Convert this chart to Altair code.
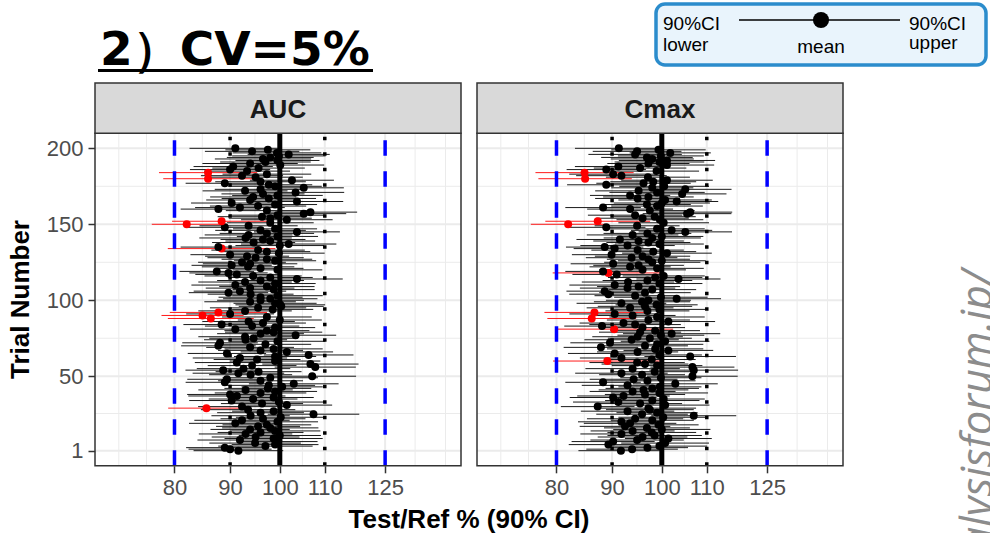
import altair as alt
import numpy as np
import pandas as pd

# ---------------- data ----------------
trials = list(range(1, 201))

auc_mean = [
    91.6, 90.0, 89.0, 97.0, 99.0, 94.9, 99.5, 91.9, 98.7, 95.0,
    100.0, 93.0, 96.0, 99.0, 93.9, 98.0, 95.5, 97.3, 91.0, 99.5,
    92.3, 96.5, 100.2, 94.0, 107.4, 96.0, 98.7, 93.5, 85.6, 92.3,
    101.5, 96.3, 99.8, 90.3, 94.5, 98.7, 91.3, 90.0, 96.0, 99.0,
    93.0, 97.5, 100.5, 97.7, 103.0, 89.0, 96.0, 89.4, 98.0, 107.1,
    94.0, 91.6, 95.6, 88.7, 92.6, 107.8, 94.3, 106.7, 91.3, 99.0,
    95.3, 91.9, 99.0, 106.3, 89.4, 101.5, 96.0, 98.7, 93.9, 87.8,
    97.0, 88.1, 99.5, 93.0, 94.6, 92.9, 103.4, 96.0, 98.7, 97.3,
    91.0, 99.0, 94.3, 88.4, 96.5, 93.6, 100.0, 86.4, 97.3, 84.9,
    90.0, 87.8, 92.9, 98.5, 95.5, 100.3, 100.1, 99.0, 93.9, 96.0,
    98.0, 96.0, 99.5, 94.0, 89.7, 91.9, 98.7, 93.9, 97.3, 91.0,
    99.0, 92.9, 96.0, 103.7, 98.0, 94.5, 91.3, 89.7, 87.5, 99.5,
    96.0, 93.5, 90.3, 93.9, 92.3, 99.0, 97.3, 95.0, 93.3, 90.0,
    99.8, 97.3, 95.5, 88.4, 87.8, 100.0, 101.9, 94.6, 98.0, 96.5,
    93.0, 99.5, 93.6, 97.3, 103.7, 96.0, 99.0, 89.0, 93.6, 82.1,
    98.0, 88.4, 101.5, 98.0, 96.3, 99.5, 105.2, 106.7, 97.3, 87.8,
    91.9, 95.5, 99.0, 90.3, 103.7, 93.9, 97.7, 94.5, 99.5, 96.5,
    103.4, 92.9, 96.0, 105.2, 99.0, 97.7, 89.0, 96.0, 102.6, 85.9,
    95.0, 92.3, 97.3, 85.9, 93.3, 90.0, 95.6, 90.6, 100.1, 93.9,
    97.0, 99.5, 96.5, 98.0, 99.8, 101.9, 99.4, 94.3, 97.5, 91.0,
]
# half width of the 90% CI on the log scale, in 1/1000
auc_hw = [
    95, 88, 82, 100, 92, 97, 85, 90, 104, 93,
    87, 99, 91, 96, 84, 102, 89, 94, 98, 86,
    101, 90, 95, 83, 97, 92, 88, 100, 81, 93,
    96, 87, 99, 90, 94, 85, 103, 91, 97, 89,
    100, 92, 86, 98, 95, 83, 90, 84, 101, 93,
    88, 97, 91, 80, 99, 86, 94, 102, 89, 96,
    92, 100, 87, 95, 83, 98, 90, 104, 93, 79,
    97, 80, 101, 88, 94, 99, 86, 92, 103, 90,
    96, 85, 100, 81, 91, 98, 89, 91, 95, 87,
    93, 103, 99, 86, 102, 90, 95, 88, 97, 92,
    100, 89, 96, 91, 84, 98, 87, 94, 101, 93,
    86, 99, 92, 97, 90, 103, 88, 83, 79, 95,
    91, 98, 85, 100, 93, 87, 96, 102, 89, 84,
    97, 92, 99, 114, 80, 94, 101, 88, 95, 90,
    98, 86, 93, 100, 91, 96, 89, 82, 104, 74,
    92, 105, 97, 88, 94, 101, 90, 99, 87, 80,
    95, 102, 89, 86, 98, 93, 100, 91, 96, 88,
    103, 90, 97, 85, 99, 92, 83, 96, 89, 95,
    100, 87, 94, 104, 91, 85, 98, 84, 93, 101,
    96, 89, 102, 92, 99, 87, 94, 100, 90, 97,
]

cmax_mean = [
    91.7, 93.9, 97.0, 99.5, 89.3, 100.7, 90.2, 94.9, 101.4, 96.0,
    98.5, 91.8, 97.9, 94.0, 100.0, 96.9, 92.5, 99.3, 93.5, 91.8,
    98.0, 94.5, 100.3, 107.0, 95.9, 99.0, 93.0, 97.5, 97.2, 87.3,
    100.7, 95.5, 91.2, 98.0, 100.4, 90.2, 92.2, 96.5, 99.5, 94.0,
    96.2, 98.0, 99.6, 93.0, 102.9, 88.3, 97.0, 94.2, 99.8, 106.7,
    95.9, 91.8, 98.5, 107.0, 94.0, 106.7, 99.0, 96.5, 94.9, 89.1,
    97.9, 91.8, 106.2, 99.5, 90.5, 95.0, 101.4, 98.6, 87.9, 96.5,
    99.0, 89.6, 100.7, 93.8, 97.5, 95.0, 99.8, 102.1, 95.5, 98.6,
    90.4, 96.0, 88.1, 94.5, 92.2, 101.4, 97.2, 86.2, 99.0, 94.0,
    90.5, 86.7, 97.0, 99.5, 93.5, 96.5, 98.9, 91.8, 95.9, 97.2,
    103.2, 99.8, 94.5, 89.3, 96.5, 88.6, 98.0, 93.0, 95.2, 90.5,
    99.5, 93.1, 97.0, 103.6, 98.6, 100.4, 90.9, 89.3, 88.3, 96.0,
    99.0, 93.5, 95.2, 90.2, 98.0, 100.0, 97.2, 93.8, 96.0, 89.9,
    101.1, 98.2, 95.0, 90.5, 88.6, 93.0, 99.5, 97.2, 95.2, 91.5,
    98.0, 100.0, 94.0, 97.0, 105.1, 102.1, 99.0, 88.9, 94.9, 82.0,
    100.4, 87.3, 99.6, 96.0, 98.5, 94.5, 105.5, 106.2, 97.5, 93.5,
    88.3, 99.0, 96.9, 100.0, 103.2, 100.7, 95.0, 97.2, 93.5, 104.4,
    99.0, 95.2, 105.1, 98.0, 100.5, 88.9, 96.2, 98.2, 101.1, 85.0,
    97.1, 91.8, 90.2, 84.9, 98.9, 88.9, 95.5, 91.2, 101.1, 97.2,
    99.5, 101.1, 98.0, 96.9, 99.8, 94.5, 101.8, 94.9, 99.3, 91.3,
]
cmax_hw = [
    90, 97, 86, 101, 84, 93, 88, 99, 92, 95,
    100, 87, 94, 89, 103, 91, 96, 85, 98, 92,
    88, 102, 95, 90, 97, 86, 99, 93, 101, 78,
    94, 89, 96, 100, 87, 92, 98, 85, 103, 91,
    95, 99, 88, 97, 90, 80, 102, 93, 86, 96,
    91, 98, 87, 94, 100, 89, 96, 92, 101, 115,
    93, 88, 97, 90, 99, 86, 95, 102, 79, 91,
    98, 84, 94, 100, 89, 96, 92, 103, 87, 95,
    125, 90, 80, 97, 93, 99, 88, 94, 101, 91,
    96, 106, 89, 98, 92, 100, 87, 95, 102, 90,
    94, 99, 86, 83, 97, 81, 93, 101, 88, 96,
    91, 98, 95, 89, 100, 87, 94, 118, 80, 92,
    99, 86, 96, 90, 102, 93, 88, 97, 101, 84,
    95, 91, 98, 87, 82, 100, 94, 89, 96, 92,
    103, 88, 97, 93, 99, 86, 101, 83, 90, 79,
    96, 111, 92, 98, 87, 100, 94, 89, 95, 91,
    80, 97, 93, 102, 88, 99, 90, 96, 85, 94,
    101, 92, 98, 87, 95, 83, 100, 91, 97, 99,
    89, 96, 93, 104, 90, 84, 98, 92, 100, 87,
    95, 102, 88, 97, 91, 99, 86, 94, 100, 93,
]

panel_names = ["AUC", "Cmax"]
x_breaks = [80, 90, 100, 110, 125]
x_minor = [71.1, 75.4, 84.85, 94.87, 104.9, 117.3, 133.2, 142.05]
y_breaks = [1, 50, 100, 150, 200]
y_minor = [25.5, 75, 125, 175]
limit_lines = [80, 125]
inner_lines = [90, 110]
centre_line = [100]
title_text = "2）CV=5%"
x_title = "Test/Ref % (90% CI)"
y_title = "Trial Number"
watermark = "https://www.analysisforum.jp/"

# ---------------- layout ----------------
W, H = 990, 533
PT, PB = 133.2, 465.8          # panel top / bottom
STRIP_TOP = 83
PANELS = [(95, 461), (477, 843)]
X_DOMAIN = [67.6, 146.8]
Y_DOMAIN = [-8.95, 209.95]
LABEL_FONT = "Liberation Sans"

one = pd.DataFrame({"k": [0]})


def yscale():
    return alt.Scale(domain=Y_DOMAIN, range=[PB, PT], nice=False, zero=False)


def make_df(mean, hw):
    m = np.array(mean, float)
    h = np.array(hw, float) / 1000.0
    lo = m * np.exp(-h)
    hi = m * np.exp(h)
    col = np.where(lo < 80, "#ff0000", "#000000")
    return pd.DataFrame({"trial": trials, "mean": m, "lower": lo, "upper": hi, "col": col})


def vals(v):
    return pd.DataFrame({"v": v})


def panel_layers(df, x0, x1, name, first):
    xs = alt.Scale(type="log", domain=X_DOMAIN, range=[x0, x1], nice=False, zero=False)
    L = []
    # grid
    L.append(alt.Chart(vals(x_minor)).mark_rule(color="#ebebeb", strokeWidth=1).encode(
        x=alt.X("v:Q", scale=xs, axis=None), y=alt.value(PT), y2=alt.value(PB)))
    L.append(alt.Chart(vals(y_minor)).mark_rule(color="#ebebeb", strokeWidth=1).encode(
        y=alt.Y("v:Q", scale=yscale(), axis=None), x=alt.value(x0), x2=alt.value(x1)))
    L.append(alt.Chart(vals(x_breaks)).mark_rule(color="#ebebeb", strokeWidth=2).encode(
        x=alt.X("v:Q", scale=xs, axis=None), y=alt.value(PT), y2=alt.value(PB)))
    L.append(alt.Chart(vals(y_breaks)).mark_rule(color="#ebebeb", strokeWidth=2).encode(
        y=alt.Y("v:Q", scale=yscale(), axis=None), x=alt.value(x0), x2=alt.value(x1)))
    # CI lines
    L.append(alt.Chart(df).mark_rule(strokeWidth=0.9).encode(
        x=alt.X("lower:Q", scale=xs, axis=None), x2="upper:Q",
        y=alt.Y("trial:Q", scale=yscale(), axis=None),
        color=alt.Color("col:N", scale=None)))
    # points (carry the axes)
    xaxis = alt.Axis(orient="bottom", offset=PB - H, values=x_breaks, format="d", grid=False,
                     domain=False, ticks=True, tickSize=7, tickWidth=1.5, tickColor="#333333",
                     labelFont=LABEL_FONT, labelFontSize=22, labelColor="#4d4d4d",
                     labelPadding=5, labelOverlap=False, labelFlush=False, title=None)
    if first:
        yaxis = alt.Axis(orient="left", offset=-x0, values=y_breaks, grid=False, domain=False,
                         ticks=True, tickSize=7, tickWidth=1.5, tickColor="#333333",
                         labelFont=LABEL_FONT, labelFontSize=22, labelColor="#4d4d4d",
                         labelPadding=5, labelOverlap=False, labelFlush=False, title=None)
    else:
        yaxis = None
    L.append(alt.Chart(df).mark_circle(size=64, opacity=1).encode(
        x=alt.X("mean:Q", scale=xs, axis=xaxis),
        y=alt.Y("trial:Q", scale=yscale(), axis=yaxis),
        color=alt.Color("col:N", scale=None)))
    # reference lines
    L.append(alt.Chart(vals(limit_lines)).mark_rule(color="#0000ff", strokeWidth=3.5,
                                                   strokeDash=[15.5, 15.5]).encode(
        x=alt.X("v:Q", scale=xs, axis=None), y=alt.value(PB), y2=alt.value(PT)))
    L.append(alt.Chart(vals(inner_lines)).mark_rule(color="#000000", strokeWidth=3.5,
                                                   strokeDash=[3.5, 12]).encode(
        x=alt.X("v:Q", scale=xs, axis=None), y=alt.value(PB), y2=alt.value(PT)))
    L.append(alt.Chart(vals(centre_line)).mark_rule(color="#000000", strokeWidth=5).encode(
        x=alt.X("v:Q", scale=xs, axis=None), y=alt.value(PB), y2=alt.value(PT)))
    # panel border and strip
    L.append(alt.Chart(one).mark_rect(fillOpacity=0, stroke="#333333", strokeWidth=1.5).encode(
        x=alt.value(x0), x2=alt.value(x1), y=alt.value(PT), y2=alt.value(PB)))
    L.append(alt.Chart(one).mark_rect(fill="#d9d9d9", stroke="#333333", strokeWidth=1.5).encode(
        x=alt.value(x0), x2=alt.value(x1), y=alt.value(STRIP_TOP), y2=alt.value(PT)))
    L.append(alt.Chart(one).mark_text(text=name, font=LABEL_FONT, fontSize=26, fontWeight="bold",
                                      color="#1a1a1a", align="center", baseline="alphabetic").encode(
        x=alt.value((x0 + x1) / 2), y=alt.value(118)))
    return L


def txt(s, x, y, **kw):
    return alt.Chart(one).mark_text(text=s, **kw).encode(x=alt.value(x), y=alt.value(y))


layers = []
layers += panel_layers(make_df(auc_mean, auc_hw), *PANELS[0], panel_names[0], True)
layers += panel_layers(make_df(cmax_mean, cmax_hw), *PANELS[1], panel_names[1], False)

# axis titles
layers.append(txt(x_title, (PANELS[0][0] + PANELS[1][1]) / 2, 528, font=LABEL_FONT, fontSize=26,
                  fontWeight="bold", color="black", align="center", baseline="alphabetic"))
layers.append(txt(y_title, 29, (PT + PB) / 2, font=LABEL_FONT, fontSize=26, fontWeight="bold",
                  color="black", align="center", baseline="alphabetic", angle=270))

# title with underline
layers.append(txt(title_text, 100, 65, font="DejaVu Sans", fontSize=47, fontWeight="bold",
                  color="black", align="left", baseline="alphabetic"))
layers.append(alt.Chart(one).mark_rule(color="black", strokeWidth=3).encode(
    x=alt.value(98), x2=alt.value(373), y=alt.value(70.5)))

# legend box
layers.append(alt.Chart(one).mark_rect(cornerRadius=9, fill="#e9f4fc", stroke="#2b8ccc",
                                       strokeWidth=3.5).encode(
    x=alt.value(656), x2=alt.value(986), y=alt.value(4), y2=alt.value(65)))
layers.append(alt.Chart(one).mark_rule(color="black", strokeWidth=1.5).encode(
    x=alt.value(739), x2=alt.value(900), y=alt.value(20)))
layers.append(alt.Chart(one).mark_circle(size=260, color="black", opacity=1).encode(
    x=alt.value(821), y=alt.value(20)))
lg = dict(font=LABEL_FONT, fontSize=19, color="black", baseline="alphabetic")
layers.append(txt("90%CI", 663, 30, align="left", **lg))
layers.append(txt("lower", 663, 51, align="left", **lg))
layers.append(txt("mean", 821, 53, align="center", **lg))
layers.append(txt("90%CI", 909, 30, align="left", **lg))
layers.append(txt("upper", 909, 49, align="left", **lg))

# watermark
layers.append(txt(watermark, 992, 270, font="Open Sans", fontSize=43, fontStyle="italic",
                  color="#8c8c8c", align="right", baseline="alphabetic", angle=270))

chart = (
    alt.layer(*layers)
    .resolve_scale(x="independent", y="independent")
    .resolve_axis(x="independent", y="independent")
    .properties(width=W, height=H, autosize=alt.AutoSizeParams(type="none"), padding=0,
                background="white")
    .configure_view(stroke=None)
)

chart.save("out.html", embed_options={"renderer": "svg", "actions": False})
